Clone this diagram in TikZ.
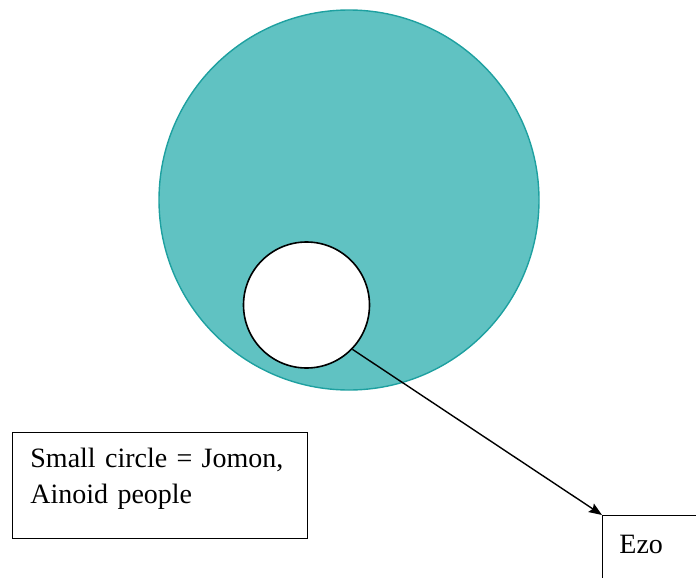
\documentclass[tikz,border=0pt]{standalone}
\usepackage{fontspec}
\setmainfont{Liberation Serif}
\usetikzlibrary{arrows.meta}
\definecolor{tealfill}{RGB}{96,194,194}
\definecolor{tealline}{RGB}{30,160,160}
\begin{document}
\begin{tikzpicture}[>={Stealth[length=6.5pt,width=5pt,inset=1pt]}, x=0.5pt, y=-0.5pt, font=\fontsize{14}{18}\selectfont]
\clip (0,0) rectangle (696,578);
\useasboundingbox (0,0) rectangle (696,578);
\node[circle, draw=tealline, fill=tealfill, line width=0.7pt, minimum size=190pt, inner sep=0pt] (big) at (349,200) {};
\node[circle, draw, fill=white, line width=0.8pt, minimum size=63pt, inner sep=0pt] (small) at (306.5,305) {};
\node[draw, anchor=north west, align=left, text width=129.5pt, inner xsep=9pt, inner ysep=8pt, text depth=27.5pt] (note) at (12,432) {Small circle = Jomon,\\Ainoid people};
\node[draw, anchor=north west, align=left, text width=60pt, inner xsep=8.5pt, inner ysep=10pt, text depth=30pt] (ezo) at (602,515) {Ezo};

\draw[->, line width=0.7pt] (small.-44) -- (ezo.north west);
\end{tikzpicture}
\end{document}
